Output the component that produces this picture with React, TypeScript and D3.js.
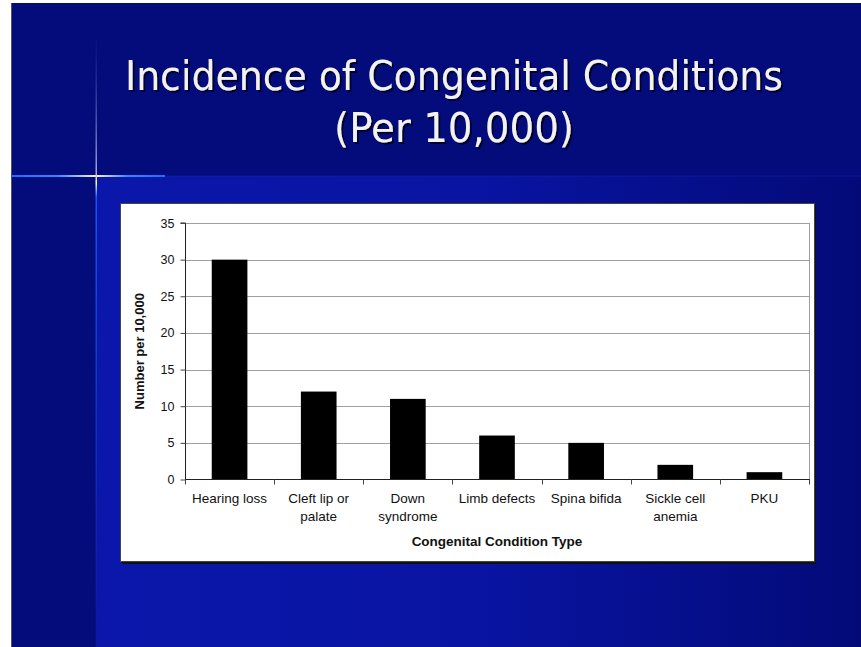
import { useRef, useEffect } from 'react';
import * as d3 from 'd3';

const categories = [
  'Hearing loss',
  'Cleft lip or palate',
  'Down syndrome',
  'Limb defects',
  'Spina bifida',
  'Sickle cell anemia',
  'PKU',
];
const categoryLines = [
  ['Hearing loss'],
  ['Cleft lip or', 'palate'],
  ['Down', 'syndrome'],
  ['Limb defects'],
  ['Spina bifida'],
  ['Sickle cell', 'anemia'],
  ['PKU'],
];
const values = [30, 12, 11, 6, 5, 2, 1];
const yTicks = [0, 5, 10, 15, 20, 25, 30, 35];

const W = 861;
const H = 647;

export default function App() {
  const svgRef = useRef<SVGSVGElement>(null);

  useEffect(() => {
    if (!svgRef.current) return;
    const svg = d3.select(svgRef.current);
    svg.selectAll('*').remove();

    const defs = svg.append('defs');

    // lower slide gradient (bright blue on the left, darker to the right)
    const lower = defs
      .append('linearGradient')
      .attr('id', 'lowerBg')
      .attr('x1', '0%')
      .attr('x2', '100%');
    lower.append('stop').attr('offset', '0%').attr('stop-color', '#0a17aa');
    lower.append('stop').attr('offset', '50%').attr('stop-color', '#0914a2');
    lower.append('stop').attr('offset', '100%').attr('stop-color', '#030a78');

    const hLine = defs
      .append('linearGradient')
      .attr('id', 'hLine')
      .attr('x1', '0%')
      .attr('x2', '100%');
    hLine.append('stop').attr('offset', '0%').attr('stop-color', '#1f6dff');
    hLine.append('stop').attr('offset', '30%').attr('stop-color', '#3a86ff');
    hLine.append('stop').attr('offset', '55%').attr('stop-color', '#fff6d8');
    hLine.append('stop').attr('offset', '75%').attr('stop-color', '#3a86ff');
    hLine.append('stop').attr('offset', '100%').attr('stop-color', '#1f6dff');

    const vLine = defs
      .append('linearGradient')
      .attr('id', 'vLine')
      .attr('x1', '0%')
      .attr('x2', '0%')
      .attr('y1', '0%')
      .attr('y2', '100%');
    vLine.append('stop').attr('offset', '0%').attr('stop-color', '#1a2a9a').attr('stop-opacity', 0.2);
    vLine.append('stop').attr('offset', '22%').attr('stop-color', '#b8b8e8').attr('stop-opacity', 0.9);
    vLine.append('stop').attr('offset', '23.5%').attr('stop-color', '#ffffff');
    vLine.append('stop').attr('offset', '26%').attr('stop-color', '#1a5cff').attr('stop-opacity', 0.9);
    vLine.append('stop').attr('offset', '100%').attr('stop-color', '#0b1c8a').attr('stop-opacity', 0.6);

    // text shadow for the title
    defs
      .append('filter')
      .attr('id', 'titleShadow')
      .attr('x', '-5%')
      .attr('y', '-20%')
      .attr('width', '110%')
      .attr('height', '140%')
      .append('feDropShadow')
      .attr('dx', 2)
      .attr('dy', 2)
      .attr('stdDeviation', 0.6)
      .attr('flood-color', '#000022')
      .attr('flood-opacity', 0.9);

    // slide background
    svg.append('rect').attr('width', W).attr('height', H).attr('fill', '#ffffff');
    svg.append('rect').attr('x', 11).attr('y', 3).attr('width', W - 11).attr('height', H - 3).attr('fill', '#040b7a');
    svg.append('rect').attr('x', 96).attr('y', 176).attr('width', W - 96).attr('height', H - 176).attr('fill', 'url(#lowerBg)');
    svg.append('line').attr('x1', 11.5).attr('x2', 11.5).attr('y1', 3).attr('y2', H).attr('stroke', '#555').attr('stroke-width', 1);

    // crosshair ornament
    svg.append('rect').attr('x', 165).attr('y', 175.5).attr('width', W - 165).attr('height', 1).attr('fill', '#1228b0').attr('opacity', 0.6);
    svg.append('rect').attr('x', 12).attr('y', 175).attr('width', 153).attr('height', 2).attr('fill', 'url(#hLine)');
    svg.append('rect').attr('x', 95.5).attr('y', 40).attr('width', 1.5).attr('height', H - 40).attr('fill', 'url(#vLine)');

    // title
    const title = svg
      .append('g')
      .attr('font-family', '"DejaVu Sans Condensed", "DejaVu Sans", sans-serif')
      .attr('font-size', 41)
      .attr('text-anchor', 'middle')
      .attr('fill', '#f2f2f2')
      .attr('filter', 'url(#titleShadow)');
    const titleLines = [
      { text: 'Incidence of Congenital Conditions', y: 90, len: 658 },
      { text: '(Per 10,000)', y: 142, len: 240 },
    ];
    titleLines.forEach((t) => {
      title.append('text').attr('x', 454).attr('y', t.y).attr('textLength', t.len).attr('lengthAdjust', 'spacingAndGlyphs').text(t.text);
    });

    // chart box
    svg.append('rect').attr('x', 122).attr('y', 205).attr('width', 694).attr('height', 359).attr('fill', '#111');
    svg.append('rect').attr('x', 120.5).attr('y', 203.5).attr('width', 694).attr('height', 358).attr('fill', '#fff').attr('stroke', '#444').attr('stroke-width', 1);

    const left = 185;
    const right = 809;
    const top = 223;
    const bottom = 479.5;

    const x = d3.scaleBand<string>().domain(categories).range([left, right]).paddingInner(0).paddingOuter(0);
    const y = d3.scaleLinear().domain([0, 35]).range([bottom, top]);

    const font = '"Liberation Sans", Arial, sans-serif';

    // gridlines
    svg
      .append('g')
      .selectAll('line')
      .data(yTicks.filter((d) => d > 0))
      .enter()
      .append('line')
      .attr('x1', left)
      .attr('x2', right)
      .attr('y1', (d) => Math.round(y(d)) + 0.5)
      .attr('y2', (d) => Math.round(y(d)) + 0.5)
      .attr('stroke', '#a0a0a0')
      .attr('stroke-width', 1);
    svg.append('line').attr('x1', right + 0.5).attr('x2', right + 0.5).attr('y1', top).attr('y2', bottom).attr('stroke', '#a0a0a0');

    // bars
    const barW = x.bandwidth() * 0.4;
    svg
      .append('g')
      .selectAll('rect')
      .data(values)
      .enter()
      .append('rect')
      .attr('x', (_, i) => (x(categories[i]) as number) + (x.bandwidth() - barW) / 2)
      .attr('y', (d) => y(d))
      .attr('width', barW)
      .attr('height', (d) => bottom - y(d))
      .attr('fill', '#000');

    // y axis
    const yAxis = svg
      .append('g')
      .attr('transform', `translate(${left + 0.5},0)`)
      .call(d3.axisLeft(y).tickValues(yTicks).tickSize(5).tickPadding(6).tickFormat(d3.format('d')));
    yAxis.select('.domain').attr('stroke', '#222').attr('d', `M-5,${top}H0V${bottom}`);
    yAxis.selectAll('.tick line').attr('stroke', '#444');
    yAxis.selectAll('.tick text').attr('font-family', font).attr('font-size', 12.5).attr('fill', '#111');

    // x axis
    const xAxis = svg.append('g').attr('transform', `translate(0,${bottom})`);
    xAxis.append('line').attr('x1', left).attr('x2', right + 1).attr('y1', 0).attr('y2', 0).attr('stroke', '#222');
    const boundaries = categories.map((c) => x(c) as number).concat([right]);
    xAxis
      .selectAll('line.tick')
      .data(boundaries)
      .enter()
      .append('line')
      .attr('class', 'tick')
      .attr('x1', (d) => Math.round(d) + 0.5)
      .attr('x2', (d) => Math.round(d) + 0.5)
      .attr('y1', 0)
      .attr('y2', 5)
      .attr('stroke', '#444');

    const labels = svg.append('g').attr('font-family', font).attr('font-size', 13.5).attr('fill', '#111').attr('text-anchor', 'middle');
    categoryLines.forEach((lines, i) => {
      const cx = (x(categories[i]) as number) + x.bandwidth() / 2;
      lines.forEach((line, j) => {
        labels.append('text').attr('x', cx).attr('y', 503 + j * 18).text(line);
      });
    });

    // axis titles
    svg
      .append('text')
      .attr('x', (left + right) / 2)
      .attr('y', 546)
      .attr('text-anchor', 'middle')
      .attr('font-family', font)
      .attr('font-weight', 'bold')
      .attr('font-size', 13.5)
      .attr('fill', '#111')
      .text('Congenital Condition Type');

    svg
      .append('text')
      .attr('transform', `translate(144,${(top + bottom) / 2}) rotate(-90)`)
      .attr('text-anchor', 'middle')
      .attr('font-family', font)
      .attr('font-weight', 'bold')
      .attr('font-size', 13)
      .attr('fill', '#111')
      .text('Number per 10,000');
  }, []);

  return (
    <div style={{ position: 'absolute', left: 0, top: 0, width: W, height: H }}>
      <svg ref={svgRef} width={W} height={H} viewBox={`0 0 ${W} ${H}`} style={{ display: 'block' }}></svg>
    </div>
  );
}
